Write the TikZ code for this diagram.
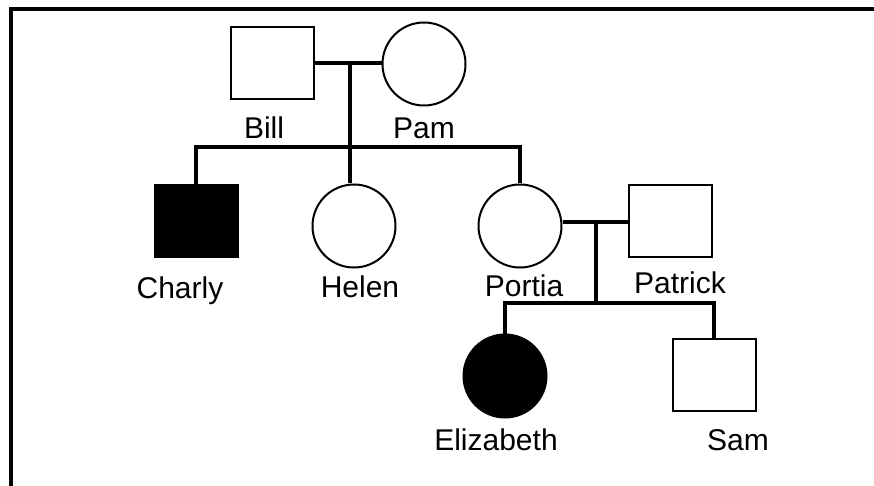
\documentclass[tikz,border=0pt]{standalone}
\usepackage{fontspec}
\setmainfont{Liberation Sans}
\begin{document}
\begin{tikzpicture}[x=1pt,y=-1pt,
  malebox/.style={draw, line width=2pt, rectangle, minimum width=83pt, minimum height=72pt, inner sep=0pt},
  femalecirc/.style={draw, line width=2pt, circle, minimum size=83pt, inner sep=0pt},
  affected/.style={fill=black},
  pname/.style={anchor=base, inner sep=0pt, font=\fontsize{30}{36}\selectfont},
  linkline/.style={line width=4pt},
  frameline/.style={line width=4pt}]
\useasboundingbox (0,0) rectangle (874,486);
\draw[frameline] (11,490) -- (11,9) -- (880,9);
% generation I
\node[malebox] (bill) at (272,63) {};
\node[femalecirc] (pam) at (424,64) {};
\node[pname] (billname) at (264,139) {Bill};
\node[pname] (pamname) at (424,139) {Pam};
% generation II
\node[malebox, affected] (charly) at (196,221) {};
\node[femalecirc] (helen) at (354,226) {};
\node[femalecirc] (portia) at (520,226) {};
\node[malebox] (patrick) at (670,221) {};
\node[pname] (charlyname) at (180,298) {Charly};
\node[pname] (helenname) at (360,297) {Helen};
\node[pname] (portianame) at (524,296) {Portia};
\node[pname] (patrickname) at (680,293) {Patrick};
% generation III
\node[femalecirc, affected] (elizabeth) at (505,376) {};
\node[malebox] (sam) at (714,375) {};
\node[pname] (elizabethname) at (496,450) {Elizabeth};
\node[pname] (samname) at (738,450) {Sam};
% connectors
\coordinate (m1) at (350,63);
\coordinate (s1) at (350,147);
\coordinate (m2) at (596,222);
\coordinate (s2) at (596,303);
\draw[linkline] (bill.east) -- (bill.east -| pam.west);
\draw[linkline] (m1) -- (helen.north -| m1);
\draw[linkline] (charly.north) |- (portia.north |- s1) -- (portia.north);
\draw[linkline] (portia.east |- m2) -- (patrick.west |- m2);
\draw[linkline] (m2) -- (s2);
\draw[linkline] (elizabeth.north) |- (sam.north |- s2) -- (sam.north);
\end{tikzpicture}
\end{document}
